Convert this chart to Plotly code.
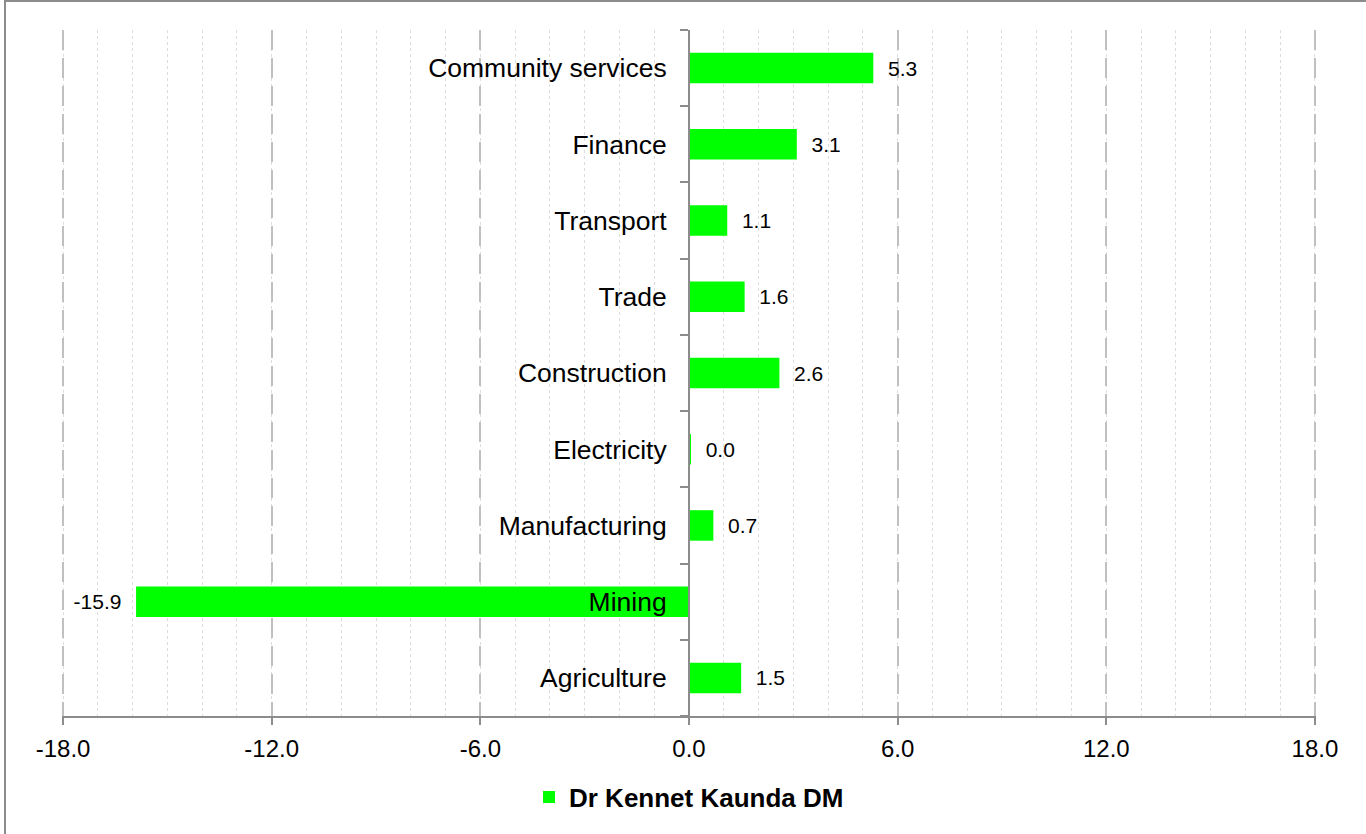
import plotly.graph_objects as go

categories = ["Agriculture", "Mining", "Manufacturing", "Electricity", "Construction",
              "Trade", "Transport", "Finance", "Community services"]
values = [1.5, -15.9, 0.7, 0.04, 2.6, 1.6, 1.1, 3.1, 5.3]
series_name = "Dr Kennet Kaunda DM"
x_ticks = [-18, -12, -6, 0, 6, 12, 18]

FONT = "Liberation Sans, Arial, sans-serif"
GREEN = "#00FF00"

W, H = 1366, 834
ML, MR, MT, MB = 62, 50, 30, 118
PW, PH = W - ML - MR, H - MT - MB


def px_x(p):
    return (p - ML) / PW


def px_y(p):
    return (H - MB - p) / PH


labels = [("\u00a0\u00a0" + f"{v:.1f}") if v >= 0 else (f"{v:.1f}" + "\u00a0\u00a0") for v in values]

fig = go.Figure()
fig.add_trace(go.Bar(
    y=categories, x=values, orientation="h",
    marker=dict(color=GREEN, line=dict(width=0)),
    name="<b>" + series_name + "</b>",
    text=labels, textposition="outside", constraintext="none", cliponaxis=False,
    textfont=dict(family=FONT, size=21, color="#000000"),
    showlegend=True,
))

fig.update_layout(
    width=W, height=H,
    margin=dict(l=ML, r=MR, t=MT, b=MB, pad=0),
    paper_bgcolor="#FFFFFF", plot_bgcolor="#FFFFFF",
    bargap=0.6,
    font=dict(family=FONT, color="#000000"),
    showlegend=True,
    legend=dict(
        orientation="h", x=0.5, xanchor="center", y=px_y(797), yanchor="middle",
        font=dict(family=FONT, size=26, color="#000000"),
        bgcolor="rgba(0,0,0,0)",
    ),
    xaxis=dict(
        range=[-18.03, 18.03], tickvals=x_ticks, ticktext=[f"{v:.1f}" for v in x_ticks],
        showgrid=True, gridcolor="#C0C0C0", gridwidth=2, griddash="20px,8px",
        minor=dict(dtick=1.0, tick0=0, showgrid=True, gridcolor="#DDDDDD",
                   gridwidth=1, griddash="dot", ticks=""),
        zeroline=False,
        showline=True, linecolor="#8C8C8C", linewidth=2,
        ticks="outside", ticklen=7, tickwidth=2, tickcolor="#8C8C8C",
        tickfont=dict(family=FONT, size=24, color="#000000"),
        ticklabelstandoff=3,
        fixedrange=True,
    ),
    yaxis=dict(
        type="category", categoryorder="array", categoryarray=categories,
        anchor="free", position=0.5, side="left",
        showgrid=False, zeroline=False,
        showline=True, linecolor="#8C8C8C", linewidth=2,
        tickson="boundaries", ticks="outside", ticklen=8, tickwidth=2, tickcolor="#8C8C8C",
        tickfont=dict(family=FONT, size=26.5, color="#000000"),
        ticklabelstandoff=16,
        fixedrange=True,
    ),
    shapes=[
        dict(type="rect", xref="paper", yref="paper",
             x0=px_x(5), x1=px_x(1420), y0=px_y(1), y1=px_y(900),
             line=dict(color="#8C8C8C", width=2), fillcolor="rgba(0,0,0,0)", layer="above"),
    ],
)

fig.write_html("out.html")
